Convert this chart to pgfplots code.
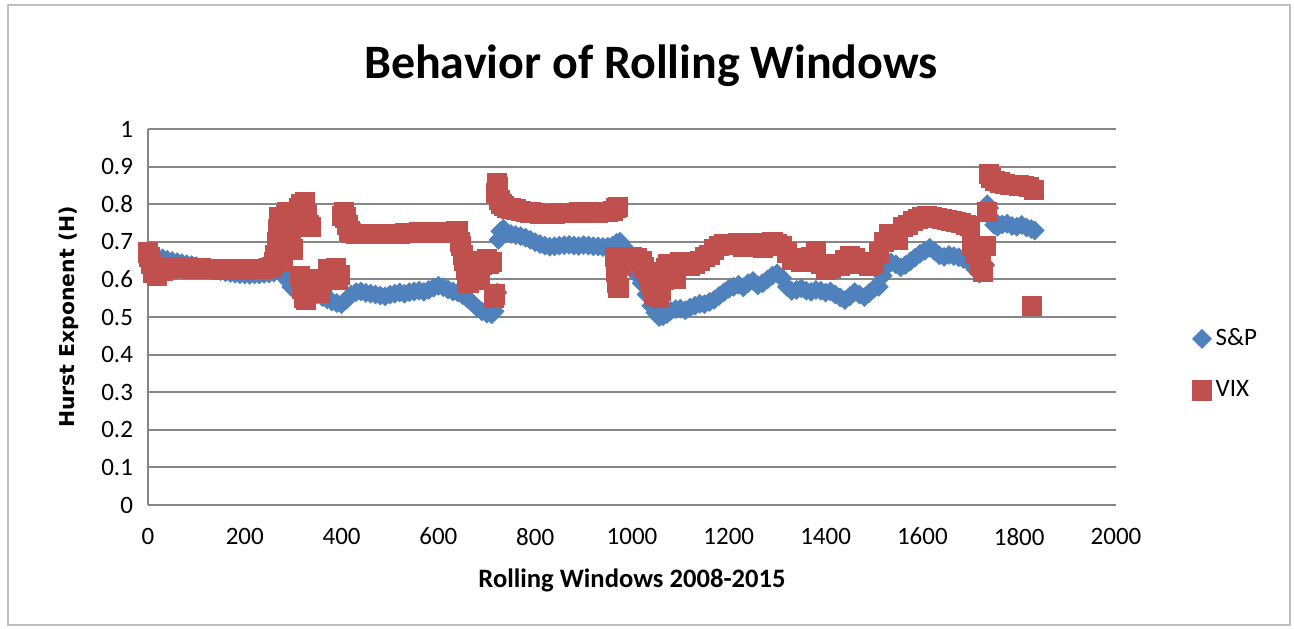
\documentclass[border=0pt]{standalone}
\usepackage{pgfplots}
\pgfplotsset{compat=1.18}
\usepackage{fontspec}
\setmainfont{Carlito}
\newfontfamily\dejavu{DejaVu Sans}
\definecolor{spblue}{HTML}{4F81BD}
\definecolor{vixred}{HTML}{C0504D}
\definecolor{gridgray}{HTML}{868686}
\definecolor{framegray}{HTML}{BFBFBF}

\pgfplotstableread{
x y
0 0.650
5 0.660
10 0.645
20 0.652
30 0.656
40 0.652
50 0.649
60 0.646
70 0.643
80 0.640
90 0.638
100 0.635
110 0.632
120 0.630
130 0.627
140 0.624
150 0.622
160 0.619
170 0.617
180 0.615
190 0.614
200 0.613
210 0.612
220 0.613
230 0.613
240 0.615
250 0.616
260 0.618
270 0.622
278 0.640
284 0.625
290 0.595
296 0.580
302 0.574
310 0.568
320 0.562
330 0.558
340 0.556
350 0.560
360 0.553
370 0.547
380 0.541
390 0.537
400 0.534
410 0.546
420 0.560
430 0.566
440 0.568
450 0.564
460 0.562
470 0.560
480 0.557
490 0.555
500 0.559
510 0.562
520 0.565
530 0.562
540 0.566
550 0.568
560 0.570
570 0.567
580 0.572
590 0.578
600 0.583
610 0.579
620 0.573
630 0.568
640 0.565
650 0.558
660 0.549
670 0.538
680 0.525
690 0.515
700 0.509
710 0.507
716 0.515
722 0.565
724 0.705
728 0.728
734 0.735
740 0.726
750 0.721
760 0.718
770 0.715
780 0.711
790 0.705
800 0.699
810 0.694
820 0.690
830 0.687
840 0.688
850 0.690
860 0.691
870 0.692
880 0.690
890 0.689
900 0.691
910 0.690
920 0.688
930 0.688
940 0.686
950 0.687
960 0.690
968 0.697
975 0.700
982 0.688
990 0.662
1000 0.632
1010 0.612
1020 0.590
1030 0.560
1040 0.530
1048 0.512
1056 0.500
1064 0.502
1072 0.508
1080 0.516
1090 0.521
1100 0.522
1110 0.518
1120 0.525
1130 0.530
1140 0.535
1150 0.534
1160 0.540
1170 0.546
1180 0.556
1190 0.566
1200 0.575
1210 0.580
1220 0.586
1230 0.579
1240 0.590
1250 0.596
1260 0.584
1270 0.590
1280 0.600
1290 0.610
1300 0.616
1310 0.604
1320 0.580
1330 0.569
1340 0.572
1350 0.576
1360 0.570
1370 0.567
1380 0.572
1390 0.570
1400 0.565
1410 0.568
1420 0.560
1430 0.552
1440 0.545
1450 0.555
1460 0.566
1470 0.560
1480 0.553
1490 0.564
1500 0.575
1510 0.580
1518 0.610
1526 0.635
1535 0.645
1545 0.640
1555 0.632
1565 0.638
1575 0.648
1585 0.658
1595 0.668
1605 0.676
1615 0.684
1625 0.675
1635 0.664
1645 0.660
1655 0.665
1665 0.662
1675 0.659
1685 0.654
1695 0.648
1703 0.638
1710 0.626
1718 0.615
1725 0.622
1730 0.638
1734 0.800
1738 0.790
1742 0.765
1748 0.745
1755 0.740
1765 0.746
1775 0.748
1785 0.742
1795 0.740
1805 0.745
1815 0.738
1825 0.734
1832 0.730
}\sptable

\pgfplotstableread{
x y
0 0.672
3 0.660
6 0.642
10 0.618
14 0.628
18 0.610
24 0.632
30 0.622
40 0.628
50 0.630
60 0.632
70 0.630
80 0.632
90 0.629
100 0.631
110 0.630
120 0.629
130 0.628
140 0.627
150 0.626
160 0.627
170 0.625
180 0.626
190 0.627
200 0.626
210 0.627
220 0.627
230 0.628
240 0.629
250 0.630
256 0.632
260 0.645
263 0.665
266 0.700
268 0.735
270 0.765
273 0.720
276 0.680
279 0.650
282 0.700
285 0.770
288 0.778
292 0.745
296 0.720
300 0.680
304 0.745
308 0.775
312 0.790
316 0.800
320 0.795
324 0.805
328 0.770
332 0.745
336 0.740
314 0.610
318 0.575
322 0.550
326 0.545
330 0.600
336 0.595
342 0.585
348 0.575
354 0.565
360 0.588
366 0.600
372 0.628
378 0.618
384 0.598
388 0.630
392 0.600
396 0.612
400 0.768
404 0.778
408 0.765
412 0.745
416 0.730
420 0.724
430 0.722
440 0.721
450 0.720
460 0.721
470 0.722
480 0.721
490 0.720
500 0.721
510 0.722
520 0.722
530 0.723
540 0.724
550 0.724
560 0.725
570 0.725
580 0.726
590 0.726
600 0.725
610 0.726
620 0.725
630 0.724
636 0.728
640 0.730
644 0.700
647 0.690
650 0.665
653 0.650
656 0.625
659 0.600
662 0.590
666 0.640
670 0.622
675 0.606
680 0.600
685 0.615
690 0.640
695 0.650
700 0.655
705 0.642
710 0.646
714 0.552
717 0.560
719 0.830
721 0.856
723 0.845
726 0.812
730 0.800
736 0.796
742 0.791
750 0.789
760 0.786
770 0.783
780 0.780
790 0.778
800 0.776
810 0.775
820 0.775
830 0.774
840 0.775
850 0.776
860 0.776
870 0.777
880 0.777
890 0.778
900 0.778
910 0.778
920 0.779
930 0.778
940 0.779
950 0.780
960 0.782
966 0.790
971 0.793
964 0.660
967 0.620
969 0.590
972 0.578
976 0.640
980 0.660
990 0.656
1000 0.660
1010 0.656
1020 0.650
1025 0.632
1030 0.620
1035 0.600
1040 0.582
1045 0.562
1050 0.556
1055 0.550
1060 0.570
1065 0.600
1070 0.630
1075 0.642
1080 0.622
1085 0.636
1090 0.602
1095 0.640
1100 0.645
1110 0.640
1120 0.636
1130 0.641
1140 0.650
1150 0.660
1160 0.666
1170 0.680
1180 0.690
1190 0.695
1200 0.691
1210 0.693
1220 0.696
1230 0.688
1240 0.695
1250 0.698
1260 0.691
1270 0.684
1280 0.698
1290 0.700
1300 0.695
1310 0.690
1320 0.672
1330 0.652
1340 0.656
1350 0.646
1360 0.651
1370 0.660
1380 0.676
1390 0.642
1400 0.626
1410 0.631
1420 0.641
1430 0.636
1440 0.652
1450 0.661
1460 0.656
1470 0.641
1480 0.646
1490 0.636
1500 0.641
1510 0.672
1520 0.700
1530 0.722
1540 0.716
1550 0.706
1560 0.740
1570 0.746
1580 0.756
1590 0.761
1600 0.766
1610 0.768
1620 0.766
1630 0.763
1640 0.761
1650 0.759
1660 0.756
1670 0.753
1680 0.750
1690 0.746
1698 0.742
1703 0.690
1708 0.668
1713 0.680
1720 0.640
1725 0.620
1730 0.690
1734 0.780
1738 0.880
1742 0.870
1750 0.862
1760 0.858
1770 0.855
1780 0.852
1790 0.851
1800 0.850
1810 0.848
1820 0.845
1830 0.838
1826 0.530
}\vixtable

\begin{document}
\begin{tikzpicture}
\useasboundingbox (-74pt,-61.5pt) rectangle (573pt,252.5pt);
\draw[framegray, line width=0.8pt] (-70pt,-60pt) rectangle (571pt,250pt);
\begin{axis}[
  at={(0pt,0pt)}, anchor=south west,
  scale only axis, width=484pt, height=188pt,
  xmin=0, xmax=2000, ymin=0, ymax=1,
  xtick={0,200,400,600,800,1000,1200,1400,1600,1800,2000},
  xticklabels={0,200,400,600,800,1000,1200,1400,1600,1800,2000},
  ytick={0,0.1,0.2,0.3,0.4,0.5,0.6,0.7,0.8,0.9,1},
  yticklabels={0,0.1,0.2,0.3,0.4,0.5,0.6,0.7,0.8,0.9,1},
  /pgf/number format/assume math mode=true,
  ymajorgrids,
  major grid style={gridgray, line width=1pt},
  axis x line*=bottom, axis y line*=left,
  axis line style={gridgray, line width=1pt, -},
  major tick length=0pt,
  tick style={draw=none},
  ticklabel style={font=\fontsize{12.5}{15}\selectfont, text=black},
  xticklabel style={yshift=-8pt},
  yticklabel style={xshift=-4pt},
  clip=false,
  legend style={at={(1.0785,0.374)}, anchor=west, draw=none, fill=none,
    inner sep=0pt, row sep=12pt, font=\fontsize{12.5}{15}\selectfont,
    legend cell align=left},
  legend image code/.code={\draw[#1] plot coordinates {(4.3pt,0pt)};},
]
\addplot[only marks, mark=square*, mark size=3.3pt,
  mark options={rotate=45, fill=spblue, draw=spblue}] table[x=x,y=y] {\sptable};
\addlegendentry{S\&P}
\addplot[only marks, mark=square*, mark size=4.8pt,
  mark options={fill=vixred, draw=vixred}] table[x=x,y=y] {\vixtable};
\addlegendentry{VIX}
\end{axis}
\node[anchor=base, font=\bfseries\fontsize{24}{28}\selectfont] at (251.5pt,213.5pt) {Behavior of Rolling Windows};
\node[anchor=base, font=\bfseries\fontsize{13.3}{16}\selectfont] at (242pt,-41pt) {Rolling Windows 2008-2015};
\node[anchor=base, rotate=90, font=\dejavu\bfseries\fontsize{10.2}{12}\selectfont] at (-37pt,94pt) {Hurst Exponent (H)};
\end{tikzpicture}
\end{document}
